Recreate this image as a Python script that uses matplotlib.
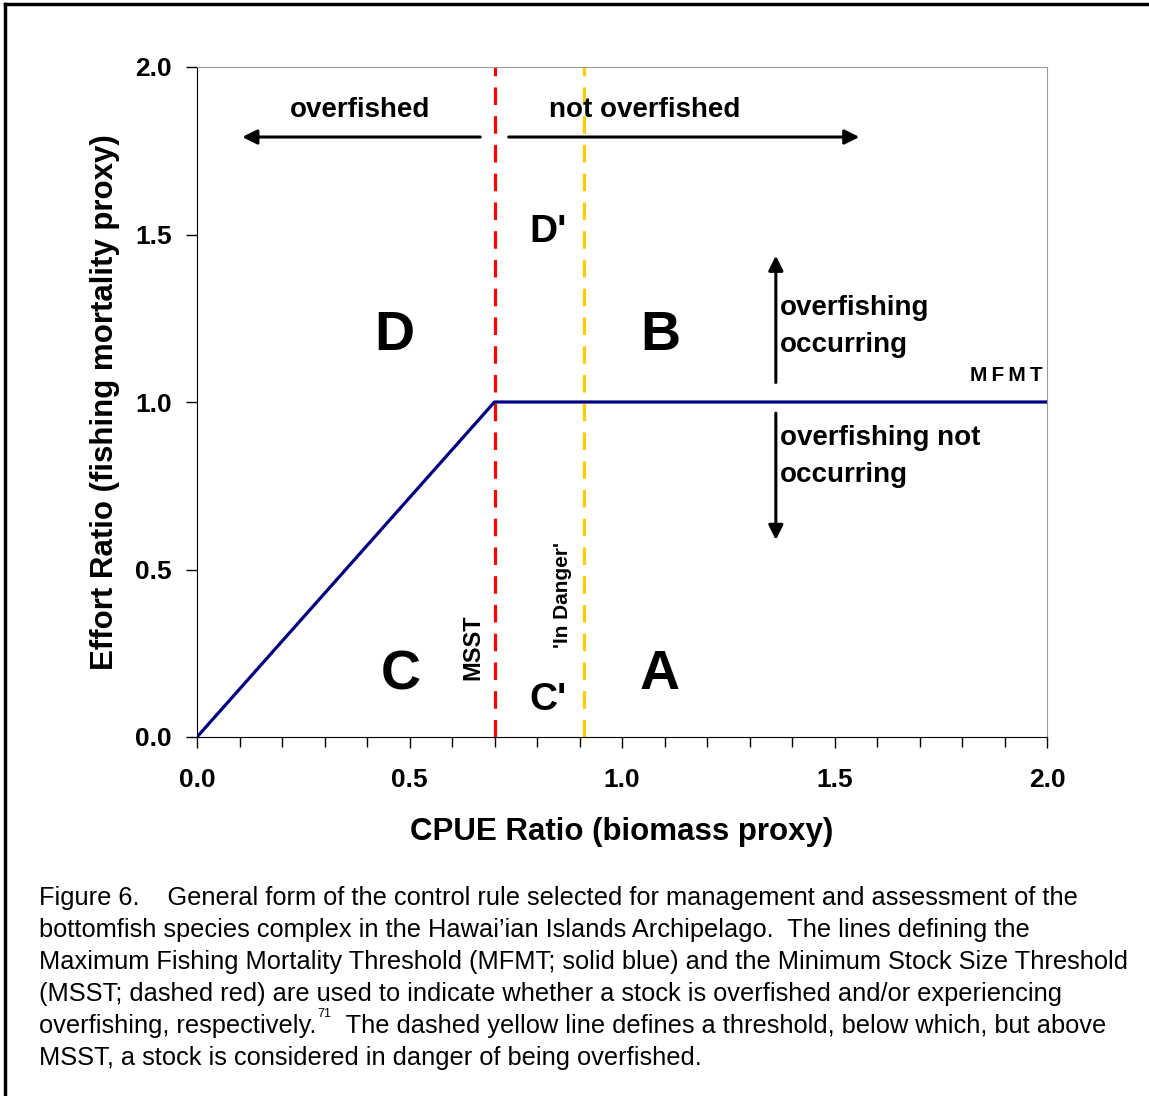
import matplotlib
matplotlib.use('Agg')
import matplotlib.pyplot as plt
from matplotlib.ticker import MultipleLocator

plt.rcParams['font.family'] = ['Liberation Sans', 'DejaVu Sans']

# control rule data
mfmt_x = [0.0, 0.7, 2.0]
mfmt_y = [0.0, 1.0, 1.0]
msst_x = 0.7
danger_x = 0.91

xticks = [0.0, 0.5, 1.0, 1.5, 2.0]
yticks = [0.0, 0.5, 1.0, 1.5, 2.0]

caption = [
    "Figure 6.    General form of the control rule selected for management and assessment of the",
    "bottomfish species complex in the Hawai\u2019ian Islands Archipelago.  The lines defining the",
    "Maximum Fishing Mortality Threshold (MFMT; solid blue) and the Minimum Stock Size Threshold",
    "(MSST; dashed red) are used to indicate whether a stock is overfished and/or experiencing",
    None,
    "MSST, a stock is considered in danger of being overfished.",
]

fig = plt.figure(figsize=(11.49, 10.96), dpi=100)
ax = fig.add_axes([197/1149, 1 - 737/1096, 850/1149, 670/1096])

ax.plot(mfmt_x, mfmt_y, color='#000080', lw=2.3, zorder=3)
ax.axvline(msst_x, color='#ff0000', lw=2.3, dashes=(5.5, 3.5), zorder=2)
ax.axvline(danger_x, color='#ffcc00', lw=2.3, dashes=(5.5, 3.5), zorder=2)

ax.set_xlim(0, 2)
ax.set_ylim(0, 2)
ax.set_xticks(xticks)
ax.set_yticks(yticks)
ax.xaxis.set_minor_locator(MultipleLocator(0.1))
ax.set_xticklabels([f'{v:.1f}' for v in xticks], fontsize=19, fontweight='bold')
ax.set_yticklabels([f'{v:.1f}' for v in yticks], fontsize=19, fontweight='bold')
ax.tick_params(axis='x', which='major', length=8, width=1, pad=14.5)
ax.tick_params(axis='x', which='minor', length=7, width=1)
ax.tick_params(axis='y', which='major', length=8, width=1, pad=10)
for s in ['top', 'right']:
    ax.spines[s].set_color('#999999')
ax.spines['left'].set_color('black')
ax.spines['bottom'].set_color('black')

ax.set_xlabel('CPUE Ratio (biomass proxy)', fontsize=22.5, fontweight='bold', labelpad=18)
ax.set_ylabel('Effort Ratio (fishing mortality proxy)', fontsize=22.5, fontweight='bold', labelpad=11)

# arrows
arr = dict(arrowstyle='-|>', color='black', lw=2.2, mutation_scale=22)
ax.annotate('', xy=(0.1, 1.791), xytext=(0.673, 1.791), arrowprops=arr)
ax.annotate('', xy=(1.565, 1.791), xytext=(0.727, 1.791), arrowprops=arr)
ax.annotate('', xy=(1.362, 1.445), xytext=(1.362, 1.05), arrowprops=arr)
ax.annotate('', xy=(1.362, 0.58), xytext=(1.362, 0.975), arrowprops=arr)

bold = dict(fontweight='bold', color='black')
ax.text(0.384, 1.872, 'overfished', fontsize=20, ha='center', va='center', **bold)
ax.text(1.054, 1.872, 'not overfished', fontsize=20, ha='center', va='center', **bold)
ax.text(0.826, 1.507, "D'", fontsize=28, ha='center', va='center', **bold)
ax.text(0.826, 0.11, "C'", fontsize=28, ha='center', va='center', **bold)
ax.text(0.464, 1.197, 'D', fontsize=40, ha='center', va='center', **bold)
ax.text(1.089, 1.197, 'B', fontsize=40, ha='center', va='center', **bold)
ax.text(0.48, 0.185, 'C', fontsize=40, ha='center', va='center', **bold)
ax.text(1.089, 0.185, 'A', fontsize=40, ha='center', va='center', **bold)
ax.text(1.372, 1.225, 'overfishing\noccurring', fontsize=20, ha='left', va='center',
        linespacing=1.55, **bold)
ax.text(1.372, 0.838, 'overfishing not\noccurring', fontsize=20, ha='left', va='center',
        linespacing=1.55, **bold)
ax.text(1.99, 1.078, 'M\u2009F\u2009M\u2009T', fontsize=15, ha='right', va='center', **bold)
ax.text(0.649, 0.269, 'MSST', fontsize=17, rotation=90, ha='center', va='center', **bold)
ax.text(0.861, 0.424, "'In Danger'", fontsize=15, rotation=90, ha='center', va='center', **bold)

# frame (top and left)
fig.add_artist(plt.Line2D([5/1149, 1], [1 - 4/1096, 1 - 4/1096], color='black', lw=2.5))
fig.add_artist(plt.Line2D([5/1149, 5/1149], [0, 1 - 4/1096], color='black', lw=2.5))

# caption
x0 = 39/1149
fs = 18.3
for i, line in enumerate(caption):
    y = 1 - (898 + 32*i)/1096
    if line is None:
        t1 = fig.text(x0, y, 'overfishing, respectively.', fontsize=fs, va='center')
        sup = plt.annotate('71', xy=(1, 0.75), xycoords=t1, xytext=(1, 0),
                           textcoords='offset points', fontsize=9, va='bottom',
                           annotation_clip=False)
        plt.annotate('  The dashed yellow line defines a threshold, below which, but above',
                     xy=(1, 0), xycoords=(sup, t1), fontsize=fs, va='bottom',
                     annotation_clip=False)
    else:
        fig.text(x0, y, line, fontsize=fs, va='center')

fig.savefig('out.png', dpi=100)
